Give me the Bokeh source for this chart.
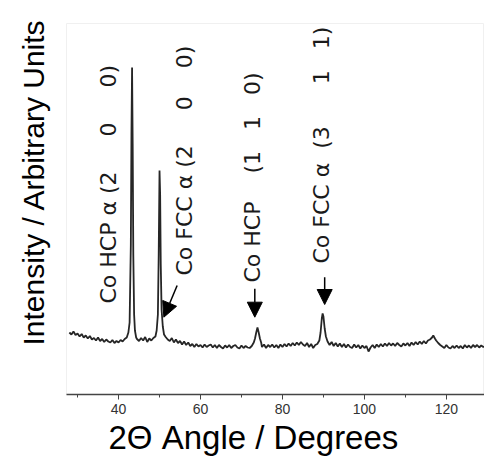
from bokeh.plotting import figure
from bokeh.models import Label, Arrow, NormalHead, Range1d, SingleIntervalTicker, Title
from bokeh.embed import file_html
from bokeh.resources import INLINE

# ---- data (2-theta in degrees, intensity in arbitrary units) ----
angle = [
    28.0, 28.5, 29.0, 29.5, 30.0, 30.5, 31.0, 31.5, 32.0, 32.5,
    33.0, 33.5, 34.0, 34.5, 35.0, 35.5, 36.0, 36.5, 37.0, 37.5,
    38.0, 38.5, 39.0, 39.5, 40.0, 40.5, 41.0, 41.5, 42.0,
    42.4, 42.7, 43.0, 43.15, 43.3, 43.45, 43.6, 43.8, 44.0, 44.3,
    44.5, 45.0, 45.5, 46.0, 46.5, 47.0, 47.5, 48.0, 48.5, 49.0,
    49.3, 49.6, 49.8, 50.0, 50.15, 50.3, 50.5, 50.8, 51.1, 51.5,
    52.0, 52.5, 53.0, 53.5, 54.0, 54.5, 55.0, 55.5, 56.0, 56.5,
    57.0, 57.5, 58.0, 58.5, 59.0, 59.5, 60.0, 60.5, 61.0, 61.5,
    62.0, 62.5, 63.0, 63.5, 64.0, 64.5, 65.0, 65.5, 66.0, 66.5,
    67.0, 67.5, 68.0, 68.5, 69.0, 69.5, 70.0, 70.5, 71.0, 71.5,
    72.0, 72.5, 73.0,
    73.3, 73.6, 73.9, 74.2, 74.5, 74.8,
    75.0, 75.5, 76.0, 76.5, 77.0, 77.5, 78.0, 78.5, 79.0, 79.5,
    80.0, 80.5, 81.0, 81.5, 82.0, 82.5, 83.0, 83.5, 84.0, 84.5,
    85.0, 85.5, 86.0, 86.5, 87.0, 87.5, 88.0, 88.5, 89.0,
    89.3, 89.6, 89.8, 90.0, 90.3, 90.6, 91.0,
    91.5, 92.0, 92.5, 93.0, 93.5, 94.0, 94.5, 95.0, 95.5, 96.0,
    96.5, 97.0, 97.5, 98.0, 98.5, 99.0, 99.5, 100.0, 100.5, 101.0,
    101.5, 102.0, 102.5, 103.0, 103.5, 104.0, 104.5, 105.0, 105.5, 106.0,
    106.5, 107.0, 107.5, 108.0, 108.5, 109.0, 109.5, 110.0, 110.5, 111.0,
    111.5, 112.0, 112.5, 113.0, 113.5, 114.0, 114.5, 115.0, 115.5, 116.0,
    116.5,
    116.8, 117.2, 117.5,
    118.0, 118.5, 119.0, 119.5, 120.0, 120.5, 121.0, 121.5, 122.0, 122.5,
    123.0, 123.5, 124.0, 124.5, 125.0, 125.5, 126.0, 126.5, 127.0, 127.5,
    128.0, 128.5, 129.0, 129.5,
]
intensity = [
    620, 600, 630, 595, 610, 580, 605, 570, 590, 560,
    585, 550, 565, 540, 570, 535, 555, 525, 550, 530,
    520, 545, 515, 535, 520, 545, 530, 555, 570,
    620, 720, 1500, 2600, 3270, 2500, 1400, 800, 640, 570,
    555, 535, 565, 540, 575, 525, 560, 540, 565, 580,
    640, 800, 1400, 2240, 2000, 1300, 850, 680, 600, 575,
    550, 535, 565, 520, 550, 515, 535, 500, 530, 495,
    520, 485, 505, 475, 505, 480, 495, 470, 500, 475,
    490, 500, 470, 495, 465, 495, 475, 460, 490, 470,
    495, 465, 485, 495, 470, 460, 490, 465, 485, 470,
    465, 485, 520,
    560, 620, 670, 620, 560, 520,
    475, 500, 465, 495, 475, 500, 470, 495, 465, 500,
    475, 505, 480, 510, 485, 515, 490, 520, 495, 525,
    500, 485, 515, 475, 505, 465, 495, 505, 540,
    620, 760, 810, 780, 660, 580, 530,
    495, 525, 485, 515, 480, 510, 475, 505, 470, 500,
    475, 465, 500, 470, 495, 460, 490, 465, 485, 430,
    470, 495, 465, 500, 475, 505, 480, 510, 485, 515,
    490, 510, 485, 515, 495, 480, 510, 490, 515, 485,
    520, 495, 525, 500, 530, 505, 535, 510, 540, 550,
    570,
    590, 560, 540,
    515, 495, 480, 465, 495, 470, 460, 485, 465, 490,
    465, 485, 460, 495, 470, 490, 465, 495, 475, 495,
    470, 490, 475, 485,
]

NB = "\u00a0"
peak_labels = [
    "Co HCP α (2" + NB * 5 + "0" + NB * 5 + "0)",
    "Co FCC α (2" + NB * 5 + "0" + NB * 4 + "0)",
    "Co HCP" + NB * 4 + "(1" + NB * 3 + "1" + NB * 3 + "0)",
    "Co FCC α" + NB * 2 + "(3" + NB * 6 + "1" + NB * 3 + "1)",
]
x_label = "2Θ Angle / Degrees"
y_label = "Intensity / Arbitrary Units"

# ---- figure ----
p = figure(width=484, height=465, output_backend="svg", toolbar_location=None,
           x_range=Range1d(27.3, 129.3), y_range=Range1d(0, 3710),
           min_border_left=66, min_border_right=0, min_border_top=23, min_border_bottom=71)
p.yaxis.visible = False
p.grid.visible = False
p.outline_line_color = "#f0f0f0"
p.background_fill_color = "white"
p.border_fill_color = "white"

p.line(angle, intensity, line_color="#262626", line_width=1.8)

ax = p.xaxis[0]
ax.ticker = SingleIntervalTicker(interval=20, num_minor_ticks=2)
ax.axis_line_color = "#444444"
ax.axis_line_width = 1.5
ax.major_tick_line_color = "#444444"
ax.minor_tick_line_color = "#444444"
ax.major_tick_out = 5
ax.major_tick_in = 0
ax.minor_tick_out = 3
ax.minor_tick_in = 0
ax.major_label_text_font = "Liberation Sans"
ax.major_label_text_font_size = "14px"
ax.major_label_text_color = "#333333"
ax.major_label_standoff = 4

# peak annotations (placement in data units)
label_pos = [(37.6, 910), (56.1, 1190), (72.6, 1120), (89.5, 1310)]
for (lx, ly), txt in zip(label_pos, peak_labels):
    p.add_layout(Label(x=lx, y=ly, text=txt, angle=90, angle_units="deg",
                       text_align="left", text_baseline="middle",
                       text_font="DejaVu Sans", text_font_size="22px",
                       text_color="#1a1a1a"))

arrows = [((54.3, 1090), (51.05, 773)), ((73.25, 1057), (73.25, 773)), ((90.3, 1173), (90.3, 900))]
for (x0, y0), (x1, y1) in arrows:
    p.add_layout(Arrow(x_start=x0, y_start=y0, x_end=x1, y_end=y1, line_width=1.5,
                       line_color="black",
                       end=NormalHead(size=15, fill_color="black", line_color="black")))

# axis titles, drawn in the side panels
p.add_layout(Title(text=y_label, align="left", offset=49, vertical_align="top", standoff=30,
                   text_font="Liberation Sans", text_font_size="30px",
                   text_font_style="normal", text_color="black"), "left")
p.add_layout(Title(text=x_label, align="left", offset=42, vertical_align="top", standoff=4,
                   text_font="Liberation Sans", text_font_size="33px",
                   text_font_style="normal", text_color="black"), "below")

open("out.html", "w").write(file_html(p, INLINE))
